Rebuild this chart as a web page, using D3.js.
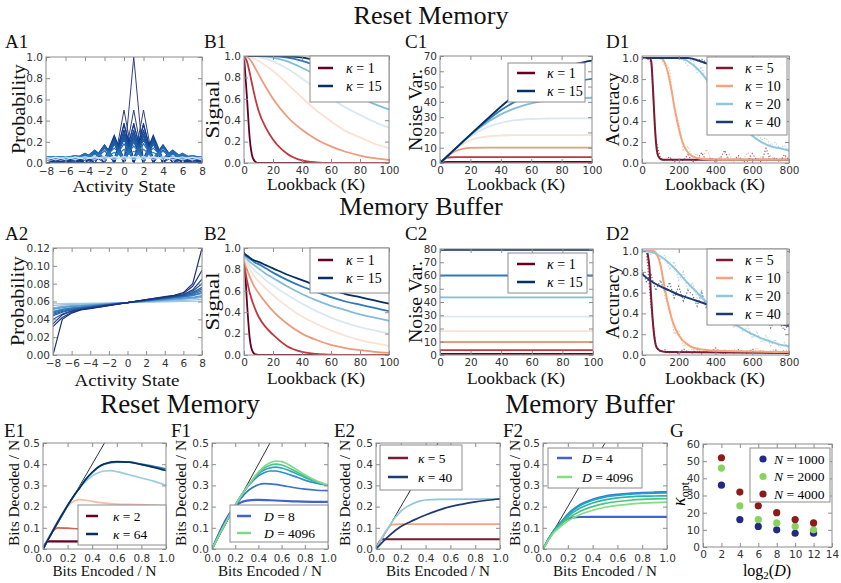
<!DOCTYPE html>
<html><head><meta charset="utf-8">
<script src="https://cdn.jsdelivr.net/npm/d3@7"></script>
<style>body{margin:0;background:#fff}svg{display:block}</style>
</head><body>
<script>
// ================= DATA =================
const A1_states=[-8,-7,-6,-5,-4,-3,-2,-1,0,1,2,3,4,5,6,7,8];
const A1_prob=[
 [0,0,0,0,0,0,0,0,0,1,0,0,0,0,0,0,0],
 [0,0,0,0,0,0,0,0,.5,0,.5,0,0,0,0,0,0],
 [0,0,0,0,0,0,0,.25,0,.5,0,.25,0,0,0,0,0],
 [0,0,0,0,0,0,.125,0,.375,0,.375,0,.125,0,0,0,0],
 [0,0,0,0,0,.0625,0,.25,0,.375,0,.25,0,.0625,0,0,0],
 [0,0,0,0,.031,0,.156,0,.313,0,.313,0,.156,0,.031,0,0],
 [0,0,0,.016,0,.094,0,.234,0,.313,0,.234,0,.094,0,.016,0],
 [0,0,.008,0,.055,0,.164,0,.273,0,.273,0,.164,0,.055,0,.008],
 [0,.004,0,.031,0,.109,0,.219,0,.273,0,.219,0,.109,0,.031,0],
 [.002,0,.018,0,.07,0,.164,0,.246,0,.246,0,.164,0,.07,0,.018],
 [0,.01,0,.044,0,.117,0,.205,0,.246,0,.205,0,.117,0,.044,0],
 [.005,0,.027,0,.081,0,.161,0,.226,0,.226,0,.161,0,.081,0,.027],
 [0,.016,0,.054,0,.121,0,.193,0,.226,0,.193,0,.121,0,.054,0],
 [0,.022,0,.061,0,.122,0,.183,0,.21,0,.183,0,.122,0,.061,0],
 [0,.028,0,.067,0,.122,0,.175,0,.196,0,.175,0,.122,0,.067,0]
];
const A1_mixed=[
 [.03,.03,.03,.03,.03,.03,.15,.03,.36,.03,.36,.03,.15,.03,.03,.03,.03],
 [.035,.035,.035,.035,.035,.09,.035,.26,.035,.36,.035,.26,.035,.09,.035,.035,.035],
 [.04,.04,.04,.04,.06,.04,.17,.04,.3,.04,.3,.04,.17,.04,.06,.04,.04],
 [.04,.045,.04,.05,.04,.11,.04,.23,.04,.29,.04,.23,.04,.11,.04,.05,.04],
 [.045,.04,.045,.04,.08,.04,.17,.04,.26,.04,.26,.04,.17,.04,.08,.04,.045],
 [.04,.05,.04,.06,.04,.12,.04,.21,.04,.25,.04,.21,.04,.12,.04,.06,.04],
 [.05,.04,.05,.04,.09,.04,.16,.04,.22,.04,.22,.04,.16,.04,.09,.04,.05],
 [.045,.055,.045,.07,.045,.12,.045,.18,.045,.21,.045,.18,.045,.12,.045,.07,.045],
 [.055,.045,.06,.045,.09,.045,.14,.045,.18,.045,.18,.045,.14,.045,.09,.045,.06],
 [.05,.06,.05,.07,.05,.1,.05,.14,.05,.16,.05,.14,.05,.1,.05,.07,.05],
 [.06,.05,.06,.05,.08,.05,.11,.05,.13,.05,.13,.05,.11,.05,.08,.05,.06],
 [.055,.06,.055,.065,.055,.08,.055,.1,.055,.11,.055,.1,.055,.08,.055,.065,.055]
];
const A1_late=[
 [.045,.05,.047,.052,.049,.054,.05,.056,.051,.057,.05,.056,.049,.054,.047,.052,.045],
 [.055,.03,.058,.032,.06,.034,.062,.035,.063,.035,.062,.034,.06,.032,.058,.03,.055],
 [.03,.056,.032,.058,.034,.06,.035,.062,.035,.062,.035,.06,.034,.058,.032,.056,.03]
];
const A2_prob=[
 [.0575,.0577,.0578,.058,.0581,.0582,.0584,.0586,.0588,.059,.0592,.0594,.0596,.0598,.06,.0602,.0605],
 [.0555,.0562,.0567,.0571,.0574,.0577,.058,.0584,.0588,.0592,.0596,.06,.0604,.0608,.0612,.0617,.0625],
 [.053,.0545,.0553,.056,.0565,.057,.0576,.0582,.0588,.0594,.06,.0606,.0612,.0618,.0625,.0633,.0645],
 [.052,.054,.0548,.0555,.0561,.0567,.0574,.0581,.0588,.0595,.0602,.0609,.0616,.0623,.0631,.064,.0655],
 [.051,.053,.0542,.055,.0557,.0564,.0572,.058,.0588,.0596,.0604,.0612,.062,.0628,.0637,.0648,.0665],
 [.049,.0515,.053,.054,.055,.0559,.0568,.0578,.0588,.0598,.0608,.0618,.0628,.0638,.065,.0665,.069],
 [.048,.051,.0525,.0535,.0546,.0556,.0566,.0577,.0588,.0599,.061,.062,.0631,.0642,.0655,.067,.07],
 [.047,.05,.0518,.053,.0542,.0553,.0565,.0577,.0588,.06,.0612,.0623,.0634,.0646,.066,.068,.072],
 [.0455,.049,.051,.0525,.0538,.055,.0563,.0576,.0588,.06,.0613,.0625,.0637,.065,.0664,.069,.074],
 [.044,.048,.0505,.052,.0535,.0548,.0562,.0575,.0588,.0601,.0614,.0627,.064,.0653,.0668,.07,.076],
 [.04,.046,.0495,.0515,.053,.0545,.056,.0574,.0588,.0602,.0616,.063,.0643,.0657,.0673,.0715,.08],
 [.035,.045,.049,.0512,.0528,.0543,.0558,.0573,.0588,.0603,.0618,.0632,.0646,.066,.0678,.073,.085],
 [.032,.042,.048,.051,.0525,.054,.0556,.0572,.0588,.0604,.062,.0635,.065,.0665,.069,.077,.095],
 [0,.04,.047,.0505,.052,.0537,.0554,.0571,.0588,.0605,.0622,.0638,.0654,.067,.07,.08,.12]
];
const B_lookback=[0,2,4,6,8,10,15,20,30,40,50,60,70,80,90,100];
const B_kappa=[1,3,5,7,9,11,13,15];
const B1_signal=[
 [1,.62,.22,.05,.01,0,0,0,0,0,0,0,0,0,0,0],
 [1,.95,.84,.71,.59,.49,.33,.22,.085,.025,.006,0,0,0,0,0],
 [1,.995,.97,.93,.88,.83,.71,.6,.43,.31,.22,.155,.105,.07,.045,.028],
 [1,1,.995,.985,.97,.955,.91,.86,.74,.61,.49,.39,.3,.24,.18,.14],
 [1,1,1,1,.995,.99,.975,.95,.88,.79,.69,.6,.52,.45,.385,.33],
 [1,1,1,1,1,1,.995,.985,.95,.89,.82,.75,.68,.61,.55,.5],
 [1,1,1,1,1,1,1,.998,.985,.955,.91,.86,.8,.75,.7,.65],
 [1,1,1,1,1,1,1,1,.996,.985,.96,.93,.89,.85,.8,.76]
];
const B2_signal=[
 [.97,.5,.15,.03,.005,0,0,0,0,0,0,0,0,0,0,0],
 [.84,.7,.58,.49,.42,.36,.26,.19,.08,.03,.01,.003,0,0,0,0],
 [.88,.8,.73,.67,.62,.58,.49,.41,.29,.2,.14,.095,.065,.045,.03,.02],
 [.9,.85,.8,.76,.72,.69,.62,.56,.45,.36,.29,.23,.18,.14,.11,.085],
 [.92,.88,.84,.81,.78,.76,.7,.65,.56,.48,.41,.35,.3,.26,.23,.2],
 [.93,.9,.87,.85,.83,.81,.76,.72,.64,.57,.51,.46,.42,.38,.35,.32],
 [.94,.92,.9,.88,.86,.85,.81,.77,.7,.64,.59,.54,.5,.47,.44,.41],
 [.95,.93,.91,.89,.88,.87,.84,.81,.75,.7,.65,.61,.57,.54,.51,.48]
];
const C_lookback=[0,5,10,15,20,30,40,50,60,70,80,90,100];
const C1_noise=[
 [0,.7,.7,.7,.7,.7,.7,.7,.7,.7,.7,.7,.7],
 [0,3.6,3.9,3.9,3.9,3.9,3.9,3.9,3.9,3.9,3.9,3.9,3.9],
 [0,4.5,7.8,9.3,9.9,10.1,10.1,10.1,10.1,10.1,10.1,10.1,10.1],
 [0,4.6,8.9,12.5,15,17.3,18,18.2,18.2,18.2,18.2,18.2,18.2],
 [0,4.6,9.2,13.5,17.4,23,26.3,28,28.8,29.1,29.2,29.2,29.2],
 [0,4.6,9.3,13.8,18.2,25.8,31.8,36,39,40.8,41.8,42.4,42.7],
 [0,4.6,9.3,13.9,18.5,27,34.5,40.5,45.3,49,51.8,53.6,55],
 [0,4.6,9.3,14,18.6,27.8,36.8,45,52,57.5,62,65,67]
];
const C2_range=[0,100];
const C2_noise=[.8,3.7,9.8,18,29,43.5,60,79.3];
const D_kappa=[5,10,20,40];
const D1_k5=[[0,1],[40,1],[50,.97],[60,.7],[70,.35],[80,.13],[90,.06],[100,.04],[120,.03],[800,.03]];
const D1_k10=[[0,1],[100,1],[120,.97],[140,.87],[160,.7],[180,.5],[200,.33],[220,.2],[250,.1],[280,.06],[320,.04],[400,.03],[800,.03]];
const D1_k20=[[0,1],[200,1],[250,.97],[300,.9],[350,.8],[400,.68],[450,.57],[500,.46],[550,.36],[600,.26],[650,.2],[700,.16],[750,.14],[800,.12]];
const D1_k40=[[0,1],[250,1],[300,.98],[350,.95],[400,.92],[450,.88],[500,.83],[550,.78],[600,.73],[650,.69],[700,.65],[750,.62],[800,.6]];
const D2_k5=[[30,.98],[40,.85],[50,.55],[60,.3],[70,.14],[80,.07],[100,.04],[130,.03],[800,.02]];
const D2_k10=[[0,1],[60,1],[80,.97],[100,.87],[120,.68],[140,.5],[160,.36],[180,.26],[200,.19],[240,.11],[280,.07],[340,.05],[400,.04],[800,.03]];
const D2_k20=[[0,1],[50,.99],[100,.95],[150,.88],[200,.79],[250,.69],[300,.6],[350,.51],[400,.43],[450,.36],[500,.3],[550,.25],[600,.2],[650,.16],[700,.13],[750,.1],[800,.085]];
const D2_k40=[[0,.78],[50,.71],[100,.66],[150,.62],[200,.58],[250,.55],[300,.52],[350,.49],[400,.46],[450,.43],[500,.4],[550,.38],[600,.36],[650,.34],[700,.32],[750,.3],[800,.28]];
const D_sampleK=[0,25,50,75,100,125,150,175,200,225,250,275,300,325,350,375,400,425,450,475,500,525,550,575,600,625,650,675,700,725,750,775,800];
const D1_dots=[
 [1,1,.96,.22,.05,.02,.06,.01,.04,.02,.08,.01,.03,.1,.02,.05,.01,.04,.12,.02,.03,.07,.01,.02,.09,.03,.01,.14,.02,.05,.01,.08,.03],
 [1,1,1,1,.99,.93,.9,.5,.4,.12,.16,.05,.09,.02,.13,.04,.03,.06,.02,.08,.01,.05,.03,.1,.02,.04,.06,.01,.07,.03,.02,.05,.04],
 [1,1,1,1,1,1,1,1,1,.98,.93,1,.86,.92,.78,.72,.76,.62,.6,.52,.48,.5,.38,.4,.27,.31,.22,.24,.17,.2,.14,.17,.11],
 [1,1,1,1,1,1,1,1,1,1,1,.99,.98,.99,.96,.95,.92,.93,.9,.88,.86,.85,.81,.8,.77,.76,.73,.71,.69,.67,.65,.62,.6]
];
const D2_dots=[
 [null,.98,.45,.1,.03,.05,.02,.04,.01,.06,.03,.02,.05,.01,.04,.02,.07,.03,.01,.04,.02,.05,.03,.01,.06,.02,.04,.03,.01,.05,.02,.04,.03],
 [1,1,1,.97,.9,.55,.48,.2,.24,.08,.12,.04,.08,.02,.06,.03,.07,.01,.05,.02,.06,.03,.01,.05,.02,.07,.03,.01,.04,.06,.02,.03,.05],
 [1,1,.97,1,.92,.96,.82,.9,.72,.8,.62,.7,.55,.62,.46,.56,.4,.47,.32,.41,.26,.33,.22,.28,.16,.23,.12,.19,.09,.15,.07,.12,.06],
 [.82,.7,.77,.62,.72,.6,.7,.55,.66,.52,.62,.58,.47,.6,.45,.55,.5,.42,.52,.4,.48,.36,.44,.4,.33,.42,.3,.38,.26,.34,.3,.24,.3]
];
const E_diag=[0,.5];
const E1_kappa=[2,4,8,16,32,64];
const E1_curves=[
 [[0,0],[.035,.035],[.05,.036],[1,.035]],
 [[0,0],[.09,.09],[.12,.1],[.2,.098],[.3,.095],[.4,.095],[.5,.097],[.7,.1],[.85,.1],[1,.1]],
 [[0,0],[.2,.2],[.25,.225],[.3,.233],[.35,.23],[.45,.22],[.6,.212],[.8,.21],[1,.205]],
 [[0,0],[.25,.25],[.3,.29],[.35,.32],[.4,.345],[.45,.36],[.5,.368],[.55,.37],[.6,.365],[.7,.35],[.8,.335],[.9,.32],[1,.3]],
 [[0,0],[.25,.25],[.3,.29],[.35,.33],[.4,.36],[.45,.385],[.5,.4],[.6,.41],[.7,.41],[.8,.4],[.9,.39],[1,.378]],
 [[0,0],[.25,.25],[.3,.29],[.35,.33],[.4,.362],[.45,.387],[.5,.402],[.6,.412],[.7,.41],[.8,.398],[.9,.385],[1,.37]]
];
const F1_D=[8,16,64,256,1024,4096];
const F1_curves=[
 [[0,0],[.2,.2],[.25,.22],[.3,.228],[.4,.232],[.5,.23],[.7,.225],[.9,.222],[1,.222]],
 [[0,0],[.2,.2],[.25,.24],[.3,.27],[.35,.29],[.4,.303],[.45,.308],[.5,.307],[.6,.3],[.7,.29],[.8,.282],[.9,.277],[1,.275]],
 [[0,0],[.25,.25],[.3,.29],[.35,.32],[.4,.345],[.45,.36],[.5,.368],[.55,.368],[.6,.362],[.7,.345],[.8,.325],[.9,.31],[1,.3]],
 [[0,0],[.25,.25],[.3,.29],[.35,.325],[.4,.355],[.45,.373],[.5,.383],[.55,.386],[.6,.382],[.7,.362],[.8,.338],[.9,.316],[1,.3]],
 [[0,0],[.25,.25],[.3,.29],[.35,.327],[.4,.36],[.45,.382],[.5,.395],[.55,.4],[.6,.396],[.7,.372],[.8,.343],[.9,.318],[1,.3]],
 [[0,0],[.25,.25],[.3,.29],[.35,.328],[.4,.363],[.45,.39],[.5,.407],[.55,.415],[.6,.412],[.7,.385],[.8,.35],[.9,.322],[1,.302]]
];
const E2_kappa=[5,10,20,40];
const E2_curves=[
 [[0,0],[.045,.045],[.06,.046],[1,.046]],
 [[0,0],[.1,.1],[.13,.115],[.2,.117],[1,.117]],
 [[0,0],[.1,.1],[.15,.145],[.2,.178],[.25,.2],[.3,.215],[.35,.226],[.4,.231],[.5,.234],[1,.236]],
 [[0,0],[.1,.06],[.2,.106],[.3,.135],[.4,.16],[.5,.182],[.6,.2],[.7,.212],[.8,.222],[.9,.23],[1,.236]]
];
const F2_D=[4,16,64,256,1024,4096];
const F2_curves=[
 [[0,0],[.08,.08],[.12,.11],[.16,.13],[.2,.142],[.25,.149],[.3,.151],[.4,.152],[1,.152]],
 [[0,0],[.08,.08],[.15,.13],[.2,.165],[.3,.21],[.4,.235],[.5,.25],[.6,.258],[.7,.263],[.8,.266],[.9,.268],[1,.27]],
 [[0,0],[.08,.08],[.15,.128],[.2,.16],[.3,.205],[.4,.23],[.5,.245],[.6,.253],[.7,.258],[.8,.262],[.9,.264],[1,.265]],
 [[0,0],[.08,.078],[.15,.124],[.2,.153],[.3,.193],[.4,.217],[.5,.232],[.6,.241],[.7,.246],[.8,.249],[.9,.25],[1,.251]],
 [[0,0],[.08,.075],[.15,.118],[.2,.143],[.3,.178],[.4,.2],[.5,.215],[.6,.224],[.7,.23],[.8,.234],[.9,.236],[1,.237]],
 [[0,0],[.08,.072],[.15,.11],[.2,.132],[.3,.163],[.4,.183],[.5,.197],[.6,.206],[.7,.212],[.8,.216],[.9,.219],[1,.221]]
];
const G_log2D=[2,4,6,8,10,12];
const G_N=[1000,2000,4000];
const G_kopt_N1000=[36,16,12,10,8,8];
const G_kopt_N2000=[46,24,16,14,12,10];
const G_kopt_N4000=[52,32,24,20,16,14];

// ================= STYLE / LAYOUT =================
const SERIF="'Liberation Serif','Times New Roman',serif";
const SANS="'DejaVu Sans',sans-serif";
const FRAME="#8c8c8c";
const TICKFS=10.5;
const svg=d3.select("body").append("svg").attr("width",841).attr("height",583);
svg.append("rect").attr("width",841).attr("height",583).attr("fill","#fff");
let clipN=0;
function panel(c){
  const x=d3.scaleLinear().domain(c.xd).range([c.l,c.r]);
  const y=d3.scaleLinear().domain(c.yd).range([c.b,c.t]);
  const id="cp"+(clipN++);
  svg.append("clipPath").attr("id",id).append("rect").attr("x",c.l).attr("y",c.t).attr("width",c.r-c.l).attr("height",c.b-c.t);
  const plot=svg.append("g").attr("clip-path",`url(#${id})`);
  return {x,y,plot,c};
}
function styleAxis(sel){
  sel.select(".domain").remove();
  sel.selectAll("line").attr("stroke",FRAME);
  sel.selectAll("text").attr("font-family",SANS).attr("font-size",TICKFS).attr("fill","#333");
}
function frame(p){
  const {x,y,c}=p;
  const g=svg.append("g");
  g.append("g").attr("transform",`translate(0,${c.b})`).call(d3.axisBottom(x).tickValues(c.xt).tickFormat(c.xf).tickSizeInner(-4).tickSizeOuter(0).tickPadding(c.xpad||3.5)).call(styleAxis);
  g.append("g").attr("transform",`translate(0,${c.t})`).call(d3.axisTop(x).tickValues(c.xt).tickFormat("").tickSizeInner(-4).tickSizeOuter(0)).call(styleAxis);
  g.append("g").attr("transform",`translate(${c.l},0)`).call(d3.axisLeft(y).tickValues(c.yt).tickFormat(c.yf).tickSizeInner(-4).tickSizeOuter(0).tickPadding(3)).call(styleAxis);
  g.append("g").attr("transform",`translate(${c.r},0)`).call(d3.axisRight(y).tickValues(c.yt).tickFormat("").tickSizeInner(-4).tickSizeOuter(0)).call(styleAxis);
  g.append("rect").attr("x",c.l).attr("y",c.t).attr("width",c.r-c.l).attr("height",c.b-c.t).attr("fill","none").attr("stroke",FRAME);
}
function txt(x,y,s,fs,anchor,rot,len){
  const t=svg.append("text").attr("font-family",SERIF).attr("font-size",fs).attr("fill","#111").attr("text-anchor",anchor||"start");
  if(rot) t.attr("transform",`translate(${x},${y}) rotate(-90)`); else t.attr("x",x).attr("y",y);
  if(len) t.attr("textLength",len).attr("lengthAdjust","spacingAndGlyphs");
  t.text(s); return t;
}
function legend(b,rows){
  const g=svg.append("g");
  g.append("rect").attr("x",b.x).attr("y",b.y).attr("width",b.w).attr("height",b.h).attr("fill","#fff").attr("stroke",FRAME);
  rows.forEach((r,i)=>{
    const yy=b.y0+i*b.dy;
    if(b.marker){
      g.append("circle").attr("cx",b.lx1).attr("cy",yy).attr("r",3.6).attr("fill",r.color);
    } else {
      g.append("line").attr("x1",b.lx1).attr("x2",b.lx2).attr("y1",yy).attr("y2",yy).attr("stroke",r.color).attr("stroke-width",2.5);
    }
    const t=g.append("text").attr("x",b.tx).attr("y",yy+4.5).attr("font-family",SERIF).attr("font-size",b.fs);
    t.append("tspan").attr("font-style","italic").text(r.sym);
    t.append("tspan").text(" = "+r.val);
  });
}
const fmtMinus=d=>d<0?"\u2212"+(-d):String(d);
const f1=d3.format(".1f"), f2=d3.format(".2f"), fd=d3.format("d");
const lineXY=(p,cur)=>d3.line().x(d=>p.x(d[0])).y(d=>p.y(d[1])).curve(cur||d3.curveMonotoneX);
const rdbu8=B_kappa.map((k,i)=>d3.interpolateRdBu(i/(B_kappa.length-1)));
const Dcol=["#7a1a33","#f4a47c","#92c5de","#1f3a70"];

// ================= TITLES =================
txt(431,24,"Reset Memory",25,"middle",false,155);
txt(421,215,"Memory Buffer",26,"middle");
txt(180,413,"Reset Memory",27,"middle");
txt(590,413,"Memory Buffer",27,"middle");
[["A1",5,48],["B1",204,48],["C1",405,48],["D1",606,48],["A2",5,240],["B2",204,240],["C2",405,240],["D2",606,240],
 ["E1",4,437],["F1",171,437],["E2",334,437],["F2",503,437],["G",670,437]].forEach(d=>txt(d[1],d[2],d[0],19));

// ================= A1 =================
{
 const p=panel({l:46,r:202,t:57,b:163,xd:[-8,8],yd:[0,1],xt:[-8,-6,-4,-2,0,2,4,6,8],xf:fmtMinus,yt:[0,.2,.4,.6,.8,1],yf:f1,xpad:5});
 const cPure=d3.scaleLinear().domain([0,A1_prob.length-1]).range(["#333d85","#0d3f8f"]);
 const cMix=d3.scaleLinear().domain([0,A1_mixed.length-1]).range(["#0c3b8a","#2f7fc0"]);
 const cLate=d3.scaleLinear().domain([0,A1_late.length-1]).range(["#9cc7e4","#d3e6f3"]);
 const draw=(arr,c,w)=>p.plot.append("path").datum(arr.map((v,j)=>[A1_states[j],v])).attr("d",lineXY(p,d3.curveLinear)).attr("fill","none").attr("stroke",c).attr("stroke-width",w);
 A1_prob.forEach((arr,i)=>draw(arr,cPure(i),1));
 A1_mixed.forEach((arr,i)=>draw(arr,cMix(i),1.2));
 A1_late.forEach((arr,i)=>draw(arr,cLate(i),1.2));
 frame(p);
 txt(25,109,"Probability",18,"middle",true,90);
 txt(124,192,"Activity State",17,"middle",false,103);
}
// ================= A2 =================
{
 const p=panel({l:53,r:202,t:248,b:355,xd:[-8,8],yd:[0,.12],xt:[-8,-6,-4,-2,0,2,4,6,8],xf:fmtMinus,yt:[0,.02,.04,.06,.08,.1,.12],yf:f2,xpad:5});
 const col=d3.scaleLinear().domain([0,6,A2_prob.length-1]).range(["#a6cee6","#2f7cbf","#1b2f78"]);
 A2_prob.forEach((arr,i)=>{
   p.plot.append("path").datum(arr.map((v,j)=>[A1_states[j],v])).attr("d",lineXY(p,d3.curveLinear)).attr("fill","none").attr("stroke",col(i)).attr("stroke-width",1.2);
 });
 frame(p);
 txt(24,301,"Probability",18,"middle",true,90);
 txt(127,386,"Activity State",17,"middle",false,105);
}
// ================= B1/B2 =================
[[B1_signal,56,163,190],[B2_signal,248,355,384]].forEach(([data,t,b,xl])=>{
 const p=panel({l:244,r:389,t:t,b:b,xd:[0,100],yd:[0,1],xt:[0,20,40,60,80,100],xf:fd,yt:[0,.2,.4,.6,.8,1],yf:f1});
 data.forEach((arr,i)=>{
   p.plot.append("path").datum(arr.map((v,j)=>[B_lookback[j],v])).attr("d",lineXY(p)).attr("fill","none").attr("stroke",rdbu8[i]).attr("stroke-width",1.8);
 });
 frame(p);
 txt(219,(t+b)/2,"Signal",18,"middle",true,58);
 txt(316,xl,"Lookback (K)",17,"middle",false,98);
 legend({x:310,y:t,w:79,h:(t===56?46:45),y0:t+12,dy:18,lx1:318,lx2:333,tx:346,fs:14},
   [{color:rdbu8[0],sym:"\u03ba",val:B_kappa[0]},{color:rdbu8[7],sym:"\u03ba",val:B_kappa[7]}]);
});
// ================= C1 =================
{
 const p=panel({l:440,r:592,t:56,b:163,xd:[0,100],yd:[0,70],xt:[0,20,40,60,80,100],xf:fd,yt:[0,10,20,30,40,50,60,70],yf:fd});
 C1_noise.forEach((arr,i)=>{
   p.plot.append("path").datum(arr.map((v,j)=>[C_lookback[j],v])).attr("d",lineXY(p)).attr("fill","none").attr("stroke",rdbu8[i]).attr("stroke-width",1.8);
 });
 frame(p);
 txt(422,110,"Noise Var.",18,"middle",true,82);
 txt(516,190,"Lookback (K)",17,"middle",false,98);
 legend({x:508,y:63,w:77,h:39,y0:73,dy:18,lx1:517,lx2:535,tx:547,fs:14},
   [{color:rdbu8[0],sym:"\u03ba",val:B_kappa[0]},{color:rdbu8[7],sym:"\u03ba",val:B_kappa[7]}]);
}
// ================= C2 =================
{
 const p=panel({l:440,r:593,t:249,b:355,xd:[0,100],yd:[0,80],xt:[0,20,40,60,80,100],xf:fd,yt:[0,10,20,30,40,50,60,70,80],yf:fd});
 C2_noise.forEach((v,i)=>{
   p.plot.append("path").datum(C2_range.map(k=>[k,v])).attr("d",lineXY(p,d3.curveLinear)).attr("fill","none").attr("stroke",rdbu8[i]).attr("stroke-width",1.8);
 });
 frame(p);
 txt(422,302,"Noise Var.",18,"middle",true,82);
 txt(516,384,"Lookback (K)",17,"middle",false,98);
 legend({x:508,y:253,w:79,h:40,y0:264,dy:18,lx1:517,lx2:535,tx:547,fs:14},
   [{color:rdbu8[0],sym:"\u03ba",val:B_kappa[0]},{color:rdbu8[7],sym:"\u03ba",val:B_kappa[7]}]);
}
// ================= D1/D2 =================
[[[D1_k5,D1_k10,D1_k20,D1_k40],D1_dots,56,163,190,57],[[D2_k5,D2_k10,D2_k20,D2_k40],D2_dots,249,355,384,249]].forEach(([curves,dots,t,b,xl,ly])=>{
 const p=panel({l:642,r:789,t:t,b:b,xd:[0,800],yd:[0,1.02],xt:[0,200,400,600,800],xf:fd,yt:[0,.2,.4,.6,.8,1],yf:f1});
 dots.forEach((arr,i)=>{
   p.plot.append("path").datum(arr.map((v,j)=>[D_sampleK[j],v])).attr("d",d3.line().defined(d=>d[1]!=null).x(d=>p.x(d[0])).y(d=>p.y(d[1])))
     .attr("fill","none").attr("stroke",Dcol[i]).attr("stroke-width",1.2).attr("stroke-dasharray","1.2,1.8").attr("opacity",.75);
 });
 curves.forEach((arr,i)=>{
   p.plot.append("path").datum(arr).attr("d",lineXY(p)).attr("fill","none").attr("stroke",Dcol[i]).attr("stroke-width",2);
 });
 frame(p);
 txt(619,(t+b)/2,"Accuracy",18,"middle",true,74);
 txt(715,xl,"Lookback (K)",17,"middle",false,100);
 legend({x:707,y:ly,w:80,h:(ly===57?78:76),y0:ly+11,dy:18,lx1:716,lx2:733,tx:745,fs:14},
   D_kappa.map((k,i)=>({color:Dcol[i],sym:"\u03ba",val:k})));
});
// ================= E/F =================
function bitsPanel(l,r,curves,cols,ylx,legendCfg,legendRows){
 const p=panel({l:l,r:r,t:443,b:549,xd:[0,1],yd:[0,.5],xt:[0,.2,.4,.6,.8,1],xf:f1,yt:[0,.1,.2,.3,.4,.5],yf:f1,xpad:5.5});
 p.plot.append("path").datum(E_diag.map(v=>[v,v])).attr("d",lineXY(p,d3.curveLinear)).attr("fill","none").attr("stroke","#333").attr("stroke-width",1);
 curves.forEach((arr,i)=>{
   p.plot.append("path").datum(arr).attr("d",lineXY(p)).attr("fill","none").attr("stroke",cols[i]).attr("stroke-width",i===0?2.2:1.7);
 });
 frame(p);
 txt(ylx,493,"Bits Decoded / N",14.5,"middle",true,106);
 txt((l+r)/2,576,"Bits Encoded / N",14.5,"middle",false,104);
 legend(legendCfg,legendRows);
}
const E1col=[0,.2,.35,.68,.85,1].map(t=>d3.interpolateRdBu(t));
bitsPanel(43,166,E1_curves,E1col,19,{x:78,y:505,w:88,h:40,y0:516,dy:18,lx1:86,lx2:98,tx:113,fs:13.5},
  [{color:E1col[0],sym:"\u03ba",val:E1_kappa[0]},{color:E1col[5],sym:"\u03ba",val:E1_kappa[5]}]);
const Fcol=["#4262cf","#3a72cc","#2f8fc9","#2aa9b5","#4dc48c","#7fd98a"];
bitsPanel(212,328,F1_curves,Fcol,186,{x:230,y:505,w:98,h:37,y0:516,dy:17,lx1:237,lx2:251,tx:264,fs:13.5},
  [{color:Fcol[0],sym:"D",val:F1_D[0]},{color:Fcol[5],sym:"D",val:F1_D[5]}]);
const E2col=Dcol;
bitsPanel(376,500,E2_curves,E2col,350,{x:380,y:445,w:82,h:45,y0:458,dy:19,lx1:388,lx2:408,tx:418,fs:13.5},
  [{color:E2col[0],sym:"\u03ba",val:E2_kappa[0]},{color:E2col[3],sym:"\u03ba",val:E2_kappa[3]}]);
const F2col=["#4262cf","#2f7fcf","#22a0c8","#2ab5a5","#4cc47e","#86db86"];
bitsPanel(543,667,F2_curves,F2col,520,{x:548,y:448,w:94,h:40,y0:458,dy:19,lx1:557,lx2:572,tx:582,fs:13.5},
  [{color:F2col[0],sym:"D",val:F2_D[0]},{color:F2col[5],sym:"D",val:F2_D[5]}]);
// ================= G =================
{
 const p=panel({l:703,r:832,t:444,b:547,xd:[0,14],yd:[0,60],xt:[0,2,4,6,8,10,12,14],xf:fd,yt:[0,10,20,30,40,50,60],yf:fd});
 const Gcol=["#232a86","#86d45e","#8b1c1c"];
 [G_kopt_N1000,G_kopt_N2000,G_kopt_N4000].forEach((arr,i)=>{
   p.plot.selectAll(null).data(arr.map((v,j)=>[G_log2D[j],v])).enter().append("circle")
     .attr("cx",d=>p.x(d[0])).attr("cy",d=>p.y(d[1])).attr("r",3.6).attr("fill",Gcol[i]);
 });
 frame(p);
 const yl=svg.append("text").attr("transform","translate(685,494) rotate(-90)").attr("text-anchor","middle").attr("font-family",SERIF).attr("font-size",18);
 yl.append("tspan").attr("font-style","italic").text("\u03ba");
 yl.append("tspan").attr("font-size",12).attr("dy",4).text("opt");
 const xl=svg.append("text").attr("x",767).attr("y",576).attr("text-anchor","middle").attr("font-family",SERIF).attr("font-size",16);
 xl.append("tspan").text("log");
 xl.append("tspan").attr("font-size",11).attr("dy",3).text("2");
 xl.append("tspan").attr("dy",-3).text("(");
 xl.append("tspan").attr("font-style","italic").text("D");
 xl.append("tspan").text(")");
 legend({x:750,y:448,w:80,h:54,y0:459,dy:17.5,marker:true,lx1:763,tx:774,fs:13.5},
   G_N.map((n,i)=>({color:Gcol[i],sym:"N",val:n})));
}
</script>
</body></html>
